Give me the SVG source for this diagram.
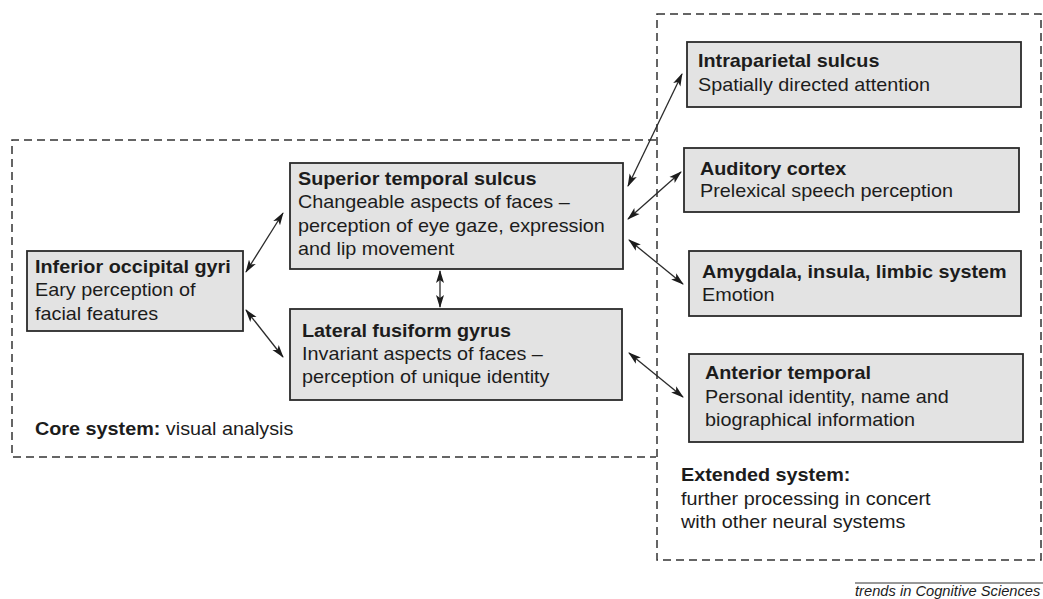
<svg xmlns="http://www.w3.org/2000/svg" width="1043" height="599" viewBox="0 0 1043 599">
<style>
.box{fill:#e3e3e3;stroke:#2a2a2a;stroke-width:1.8}
.dash{fill:none;stroke:#333;stroke-width:1.5;stroke-dasharray:8 5}
.t{font-family:"Liberation Sans",Arial,sans-serif;font-size:18px;fill:#1c1c1c}
.b{font-weight:bold}
.conn{stroke:#2a2a2a;stroke-width:1.3;fill:none;marker-start:url(#ah);marker-end:url(#ah)}
.foot{font-family:"Liberation Sans",Arial,sans-serif;font-size:14px;font-style:italic;fill:#1c1c1c}
</style>
<defs>
<marker id="ah" viewBox="0 0 13 9" refX="12" refY="4.5" markerWidth="13" markerHeight="9" markerUnits="userSpaceOnUse" orient="auto-start-reverse">
<path d="M0,0.5 L13,4.5 L0,8.5 L3,4.5 Z" fill="#1c1c1c"/>
</marker>
</defs>
<g id="core-system">
<path class="dash" d="M656,140 H12 V457 H656"/>
<text class="t" transform="translate(35,435) scale(1.1,1)"><tspan class="b">Core system:</tspan> visual analysis</text>
</g>
<g id="extended-system">
<rect class="dash" x="657" y="14" width="384" height="546"/>
<text class="t" transform="translate(681,481) scale(1.1,1)"><tspan class="b" x="0" dy="0">Extended system:</tspan><tspan x="0" dy="24.5">further processing in concert</tspan><tspan x="0" dy="22.5">with other neural systems</tspan></text>
</g>
<g id="connectors">
<line class="conn" x1="246" y1="272" x2="283" y2="213"/>
<line class="conn" x1="246" y1="310" x2="283" y2="357"/>
<line class="conn" x1="440" y1="271" x2="440" y2="307"/>
<line class="conn" x1="628" y1="186" x2="682" y2="74"/>
<line class="conn" x1="628" y1="219" x2="681" y2="172"/>
<line class="conn" x1="629" y1="240" x2="683" y2="284"/>
<line class="conn" x1="629" y1="353" x2="683" y2="397"/>
</g>
<g id="inferior-occipital-gyri">
<rect class="box" x="27" y="251" width="216" height="80"/>
<text class="t" transform="translate(35,273) scale(1.1,1)"><tspan class="b" x="0">Inferior occipital gyri</tspan><tspan x="0" dy="23.5">Eary perception of</tspan><tspan x="0" dy="23.5">facial features</tspan></text>
</g>
<g id="superior-temporal-sulcus">
<rect class="box" x="290" y="163" width="333" height="106"/>
<text class="t" transform="translate(298,185) scale(1.1,1)"><tspan class="b" x="0">Superior temporal sulcus</tspan><tspan x="0" dy="23.5">Changeable aspects of faces –</tspan><tspan x="0" dy="23.5">perception of eye gaze, expression</tspan><tspan x="0" dy="23.5">and lip movement</tspan></text>
</g>
<g id="lateral-fusiform-gyrus">
<rect class="box" x="290" y="309" width="332" height="91"/>
<text class="t" transform="translate(302,337) scale(1.1,1)"><tspan class="b" x="0">Lateral fusiform gyrus</tspan><tspan x="0" dy="23.5">Invariant aspects of faces –</tspan><tspan x="0" dy="23">perception of unique identity</tspan></text>
</g>
<g id="intraparietal-sulcus">
<rect class="box" x="687" y="42" width="334" height="65"/>
<text class="t" transform="translate(698,67) scale(1.1,1)"><tspan class="b" x="0">Intraparietal sulcus</tspan><tspan x="0" dy="24">Spatially directed attention</tspan></text>
</g>
<g id="auditory-cortex">
<rect class="box" x="684" y="148" width="335" height="64"/>
<text class="t" transform="translate(700,175) scale(1.1,1)"><tspan class="b" x="0">Auditory cortex</tspan><tspan x="0" dy="22.5">Prelexical speech perception</tspan></text>
</g>
<g id="amygdala">
<rect class="box" x="689" y="251" width="332" height="65"/>
<text class="t" transform="translate(702,278) scale(1.1,1)"><tspan class="b" x="0">Amygdala, insula, limbic system</tspan><tspan x="0" dy="23">Emotion</tspan></text>
</g>
<g id="anterior-temporal">
<rect class="box" x="689" y="354" width="334" height="88"/>
<text class="t" transform="translate(705,379) scale(1.1,1)"><tspan class="b" x="0">Anterior temporal</tspan><tspan x="0" dy="24.5">Personal identity, name and</tspan><tspan x="0" dy="23">biographical information</tspan></text>
</g>
<g id="footer">
<line x1="855" y1="583" x2="1043" y2="583" stroke="#333" stroke-width="1"/>
<text class="foot" transform="translate(855,596) scale(1.05,1)">trends in Cognitive Sciences</text>
</g>
</svg>
